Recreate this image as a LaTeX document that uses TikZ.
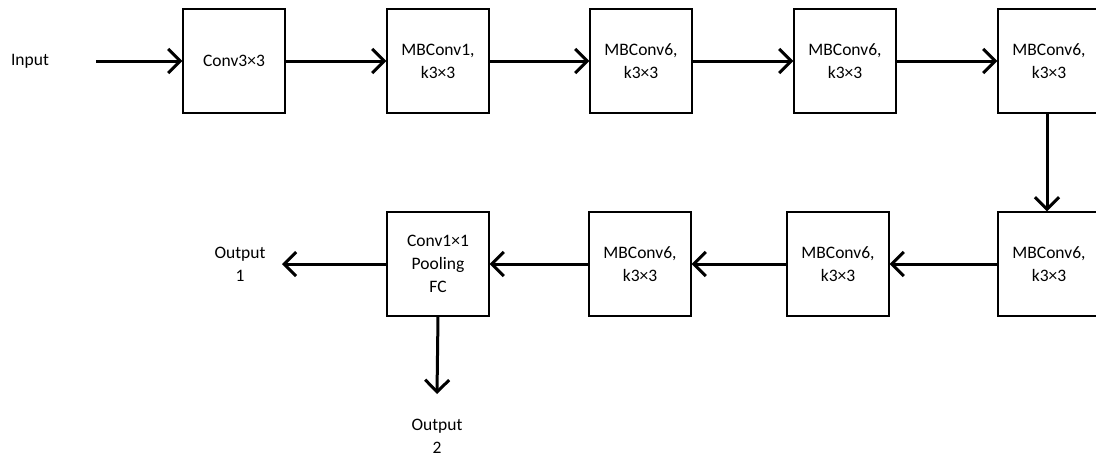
\documentclass[tikz,border=0pt]{standalone}
\usepackage{fontspec}
\setmainfont{Carlito}
\usetikzlibrary{arrows.meta}
\tikzset{
  blk/.style={draw, line width=1.3pt, minimum width=102pt, minimum height=104pt,
    inner sep=0pt, align=center, font=\fontsize{17.5}{23}\selectfont},
  lbl/.style={inner sep=0pt, align=center, font=\fontsize{17.5}{23}\selectfont},
  flow/.style={line width=3pt, -{Straight Barb[length=12pt,width=24pt,line width=3pt]}}
}
\begin{document}
\begin{tikzpicture}[x=1pt,y=-1pt]
\useasboundingbox (0,0) rectangle (1096,456);
% top row
\node[lbl] (in) at (30,61) {Input};
\coordinate (ins) at (96,61);
\node[blk] (c3) at (234,61) {Conv3×3};
\node[blk] (m1) at (438,61) {MBConv1,\\k3×3};
\node[blk] (m2) at (641,61) {MBConv6,\\k3×3};
\node[blk] (m3) at (845,61) {MBConv6,\\k3×3};
\node[blk] (m4) at (1049,61) {MBConv6,\\k3×3};
% bottom row
\node[blk] (m5) at (1049,264) {MBConv6,\\k3×3};
\node[blk] (m6) at (838,264) {MBConv6,\\k3×3};
\node[blk] (m7) at (640,264) {MBConv6,\\k3×3};
\node[blk] (head) at (438,264) {Conv1×1\\Pooling\\FC};
\node[lbl] (o1) at (240,264) {Output\\1};
\node[lbl] (o2) at (437,436) {Output\\2};
\coordinate (o1e) at (282,264);
\coordinate (o2e) at (437,394);
% connectors
\draw[flow] (ins) -- (c3.west);
\draw[flow] (c3) -- (m1);
\draw[flow] (m1) -- (m2);
\draw[flow] (m2) -- (m3);
\draw[flow] (m3) -- (m4);
\draw[flow] (m4.south -| 1047,0) -- (m5.north -| 1047,0);
\draw[flow] (m5) -- (m6);
\draw[flow] (m6) -- (m7);
\draw[flow] (m7) -- (head);
\draw[flow] (head.west) -- (o1e);
\draw[flow] (head.south) -- (o2e);
\end{tikzpicture}
\end{document}
